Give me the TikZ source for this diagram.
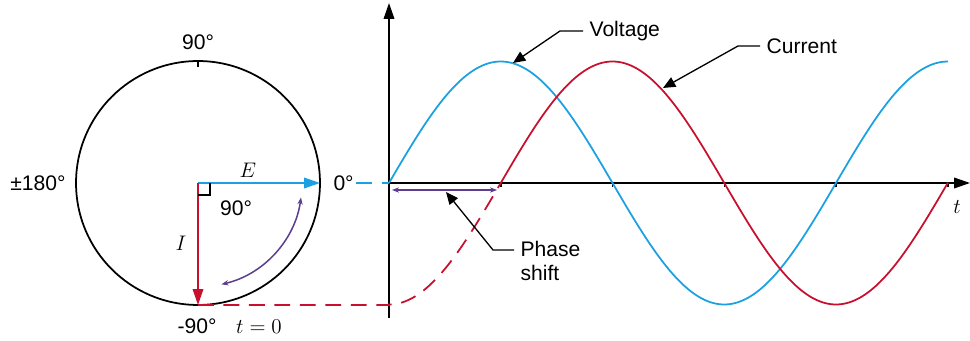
\documentclass[tikz,border=0pt]{standalone}
\usepackage{fontspec}
\setmainfont{Liberation Sans}
\usetikzlibrary{positioning,arrows.meta,calc}
\definecolor{cVolt}{HTML}{1BA1E2}
\definecolor{cCurr}{HTML}{C8102E}
\definecolor{cShift}{HTML}{5C3C8C}

\begin{document}
\begin{tikzpicture}[
  x=0.02cm,y=0.02cm,
  font=\fontsize{12}{14}\selectfont,
  line width=0.85pt,
  tip/.style={-{Triangle[length=9pt,width=6pt]}},
  lead/.style={-{Triangle[length=7pt,width=6pt]},line width=0.75pt},
  sh/.style={{Stealth[length=4pt]}-{Stealth[length=4pt]},cShift,line width=0.85pt},
  dsh/.style={dash pattern=on 9pt off 5.5pt},
  lbl/.style={inner sep=1pt}
]
\useasboundingbox (0,0) rectangle (970,341);
% phasor circle
\node[circle,draw,line width=1pt,minimum size=4.88cm,inner sep=0pt,outer sep=0pt] (ph) at (198,158) {};
\draw (ph.north) -- ++(0,-6);
\draw[tip,cVolt] (ph.center) -- (ph.east);
\draw[tip,cCurr] (ph.center) -- (ph.south);
\draw[line width=0.75pt] (198,146) -| (210,158);
\draw[sh] ([shift={(-8:104)}]ph.center) arc[start angle=-8,end angle=-77,radius=104];
\node[lbl] (d90) at (198,299) {90°};
\node[lbl] (d180) at (38,158) {±180°};
\node[lbl,anchor=west] (d0) at (331,158) {0°};
\node[lbl] (dm90) at (197,15) {-90°};
\node[lbl] (tzero) at (259,14) {$t=0$};
\node[lbl] (lE) at (248,171) {$E$};
\node[lbl] (lI) at (181,98) {$I$};
\node[lbl] (d90b) at (236,133) {90°};
% time axes
\coordinate (O) at (389,158);
\coordinate (yb) at (389,23);
\coordinate (yt) at (389,338);
\coordinate (xe) at (970,158);
\draw[tip] (yb) -- (yt);
\draw[tip] (O) -- (xe);
\foreach \k in {1,...,5} \draw (389+\k*111.75,158) -- ++(0,-4);
\node[lbl] (lt) at (957,134) {$t$};
% waves
\draw[cVolt,dsh] (d0.east) -- (O);
\draw[cVolt,line width=1pt] plot[domain=0:559,samples=120,smooth] ({389+\x},{158+121.5*sin(\x/447*360)});
\draw[cCurr,dsh,line width=1pt] (ph.south) -- (389,36) -- plot[domain=0:111.75,samples=30,smooth] ({389+\x},{158-121.5*cos(\x/447*360)});
\draw[cCurr,line width=1pt] plot[domain=111.75:559,samples=100,smooth] ({389+\x},{158-121.5*cos(\x/447*360)});
% phase shift
\coordinate (ps1) at (392,151);
\coordinate (ps2) at (497,151);
\draw[sh] (ps1) -- (ps2);
% labels
\node[anchor=west] (volt) at (583,310) {Voltage};
\coordinate (vpk) at (513,278);
\draw[lead] (volt.west) -- ++(-23,0) -- (vpk);
\node[anchor=west] (curr) at (760,295) {Current};
\coordinate (cpt) at (663,253);
\draw[lead] (curr.west) -- ++(-22,0) -- (cpt);
\node[anchor=west,align=left] (phs) at (514,80) {Phase\\shift};
\coordinate (pst) at (446,149);
\draw[lead] ($(phs.west)+(0,11)$) -- ++(-21,0) -- (pst);
\end{tikzpicture}
\end{document}
